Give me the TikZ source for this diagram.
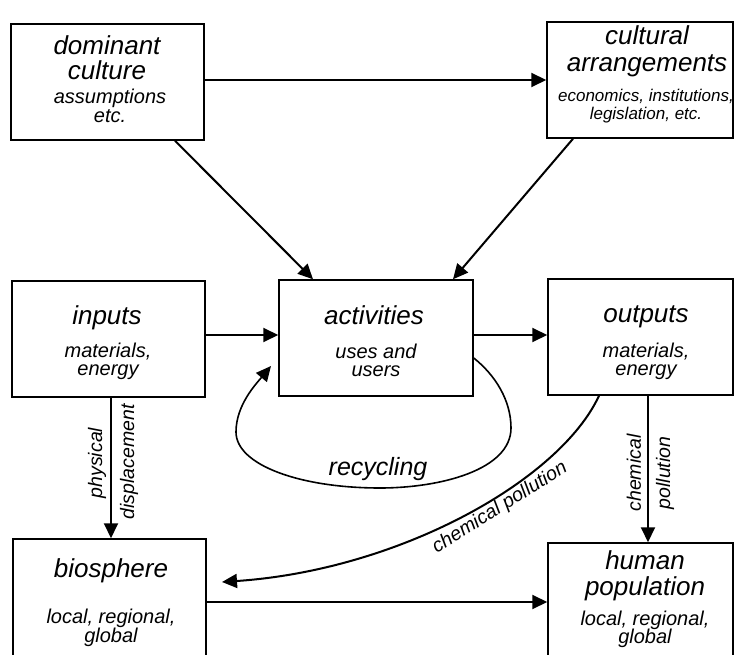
\documentclass[tikz,border=0pt]{standalone}
\usepackage{fontspec}
\setmainfont{Liberation Sans}
\usetikzlibrary{arrows.meta,calc}
\begin{document}
\begin{tikzpicture}[x=1pt,y=-1pt,
  box/.style={draw, line width=1.5pt, inner sep=0pt, minimum height=116pt},
  ttl/.style={font=\fontsize{26}{28}\selectfont\itshape, inner sep=0pt, anchor=base},
  sub/.style={font=\fontsize{20}{22}\selectfont\itshape, inner sep=0pt, anchor=base},
  subs/.style={font=\fontsize{17}{19}\selectfont\itshape, inner sep=0pt, anchor=base},
  lbl/.style={font=\fontsize{19.5}{21}\selectfont\itshape, inner sep=0pt},
  arr/.style={line width=2pt, -{Triangle[length=15pt,width=14pt]}}]
\useasboundingbox (0,0) rectangle (734,655);
\clip (0,0) rectangle (734,655);

% boxes
\node[box, minimum width=193pt] (dom) at (107.5,82) {};
\node[box, minimum width=186pt] (cult) at (640,80) {};
\node[box, minimum width=193pt] (inp) at (108.5,339) {};
\node[box, minimum width=194pt] (act) at (376,338) {};
\node[box, minimum width=185pt] (out) at (640.5,337) {};
\node[box, minimum width=193pt, minimum height=122pt] (bio) at (109.5,600) {};
\node[box, minimum width=185pt, minimum height=122pt] (hum) at (640.5,604) {};

% texts
\node[ttl] (dom1) at (107,55) {dominant};
\node[ttl] (dom2) at (107,80) {culture};
\node[sub] (dom3) at (110,104) {assumptions};
\node[sub] (dom4) at (110,123) {etc.};

\node[ttl] (cult1) at (647,45) {cultural};
\node[ttl] (cult2) at (647,72) {arrangements};
\node[subs] (cult3) at (646,102) {economics, institutions,};
\node[subs] (cult4) at (646,120) {legislation, etc.};

\node[ttl] (inp1) at (107,324) {inputs};
\node[sub] (inp2) at (108,357) {materials,};
\node[sub] (inp3) at (108,375) {energy};

\node[ttl] (act1) at (374,324) {activities};
\node[sub] (act2) at (376,358) {uses and};
\node[sub] (act3) at (376,376) {users};

\node[ttl] (out1) at (646,322) {outputs};
\node[sub] (out2) at (646,357) {materials,};
\node[sub] (out3) at (646,375) {energy};

\node[ttl] (bio1) at (111,577) {biosphere};
\node[sub] (bio2) at (111,623) {local, regional,};
\node[sub] (bio3) at (111,642) {global};

\node[ttl] (hum1) at (645,569) {human};
\node[ttl] (hum2) at (645,595) {population};
\node[sub] (hum3) at (645,625) {local, regional,};
\node[sub] (hum4) at (645,643) {global};

% straight connectors
\draw[arr] (dom.east |- cult.west) -- (cult.west);
\draw[arr] ([xshift=67.5pt]dom.south) -- ([xshift=-63pt]act.north);
\draw[arr] ([xshift=-67pt]cult.south) -- ([xshift=77pt]act.north);
\draw[arr] ([yshift=4pt]inp.east) -- ([yshift=4pt]inp.east -| act.west);
\draw[arr] ([yshift=3pt]act.east) -- ([yshift=3pt]act.east -| out.west);
\draw[arr] ([xshift=2.5pt]inp.south) -- ([xshift=2.5pt]inp.south |- bio.north);
\draw[arr] ([xshift=7.5pt]out.south) -- ([xshift=7.5pt]out.south |- hum.north);
\draw[arr] ([yshift=-2pt]bio.east) -- ([yshift=-2pt]bio.east -| hum.west);

% vertical labels
\node[lbl, rotate=90] (phys) at (97,463) {physical};
\node[lbl, rotate=90] (disp) at (129,462) {displacement};
\node[lbl, rotate=90] (chem1) at (634,473) {chemical};
\node[lbl, rotate=90] (chem2) at (665,473) {pollution};

% recycling loop
\coordinate (recEnd) at (271,366);
\draw[arr, line width=1.6pt] ([yshift=-20pt]act.east)
  .. controls (495,375) and (511,400) .. (511,428)
  .. controls (511,470) and (440,488) .. (380,488)
  .. controls (300,488) and (236,465) .. (236,432)
  .. controls (236,405) and (256,384) .. (recEnd);
\node[font=\fontsize{25}{27}\selectfont\itshape, inner sep=0pt, anchor=base] (rec) at (378,475) {recycling};

% chemical pollution curve
\coordinate (chemEnd) at (222,582);
\draw[arr] ([xshift=-41.5pt]out.south) .. controls (560,480) and (400,570) .. (chemEnd);
\node[lbl, rotate=32] (chemlbl) at (500,508) {chemical pollution};
\end{tikzpicture}
\end{document}
